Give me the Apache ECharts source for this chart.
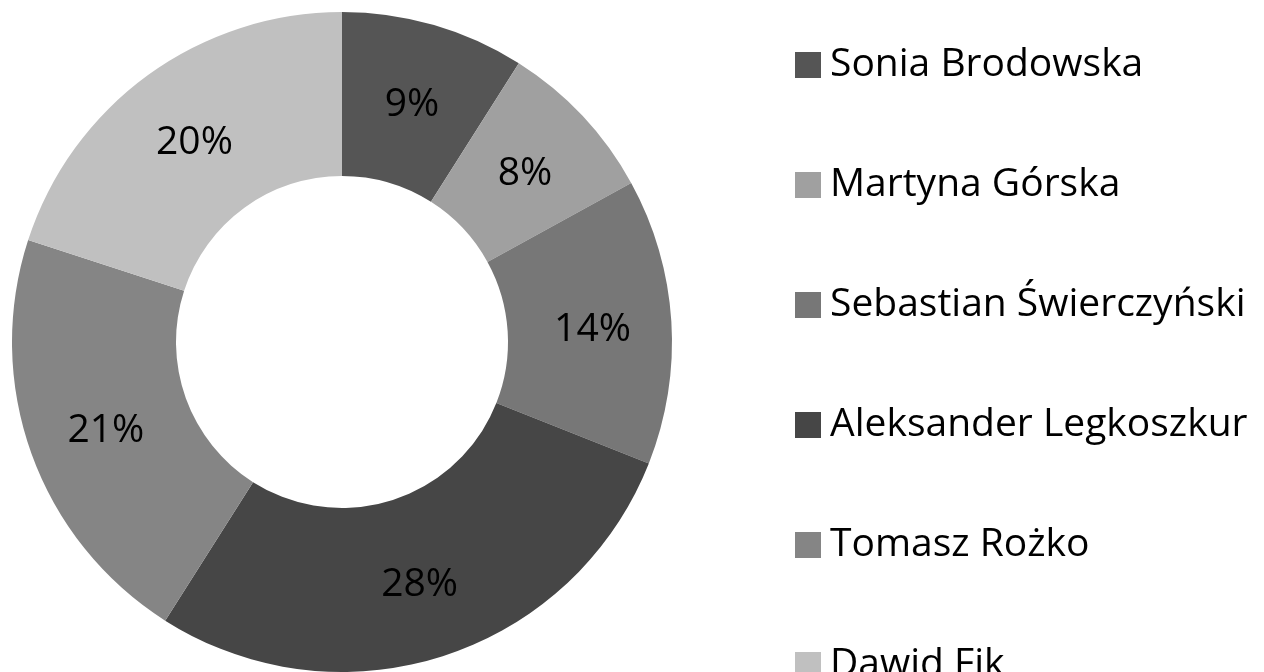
<!DOCTYPE html>
<html>
<head>
<meta charset="utf-8">
<script src="https://cdn.jsdelivr.net/npm/echarts@6/dist/echarts.min.js"></script>
<style>
	html, body { margin: 0; padding: 0; background: #fff; }
	#chart { width: 1264px; height: 672px; }
</style>
</head>
<body>
<div id="chart"></div>
<script>
// udział osób w całości (%)
const names = ["Sonia Brodowska", "Martyna Górska", "Sebastian Świerczyński", "Aleksander Legkoszkur", "Tomasz Rożko", "Dawid Fik"]
const shares = [9, 8, 14, 28, 21, 20]
const colors = ["#555555", "#a0a0a0", "#777777", "#464646", "#858585", "#c0c0c0"]

const font = "'Open Sans', 'Noto Sans', sans-serif"

const chart = echarts.init(document.getElementById("chart"))
chart.setOption({
	animation: false,
	color: colors,
	legend: {
		orient: "vertical",
		left: 790,
		top: 40,
		height: 900,
		itemWidth: 26,
		itemHeight: 26,
		itemGap: 80,
		icon: "rect",
		data: names,
		textStyle: {
			fontFamily: font,
			fontSize: 39,
			lineHeight: 40,
			color: "#000",
			padding: [0, 0, 0, 4],
		},
	},
	series: [
		{
			type: "pie",
			center: [342, 342],
			radius: [166, 330],
			startAngle: 90,
			clockwise: true,
			avoidLabelOverlap: false,
			label: {
				position: "inside",
				formatter: "{c}%",
				fontFamily: font,
				fontSize: 39,
				color: "#000",
				offset: [0, 4],
			},
			labelLine: { show: false },
			itemStyle: { borderWidth: 0 },
			emphasis: { disabled: true },
			data: names.map((name, i) => ({ name, value: shares[i] })),
		},
	],
})
</script>
</body>
</html>
